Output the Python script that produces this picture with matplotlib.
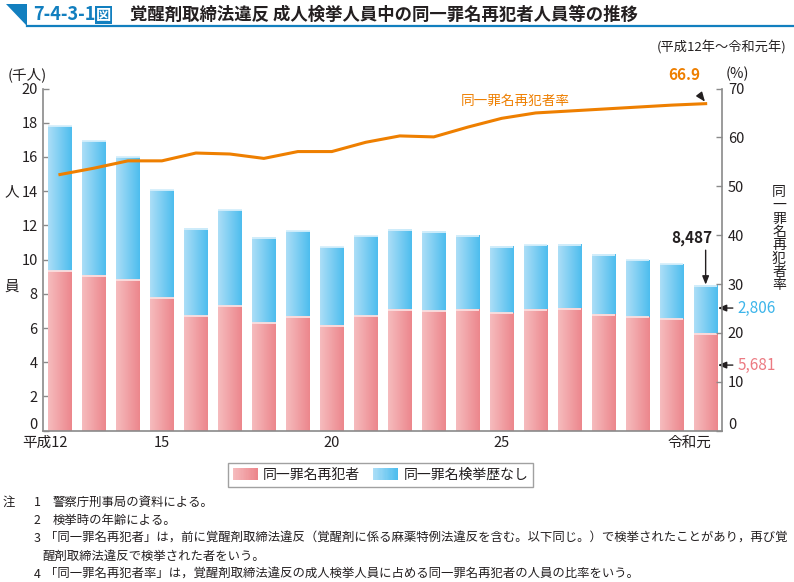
import numpy as np
import matplotlib
matplotlib.use("Agg")
import matplotlib.pyplot as plt
from matplotlib.patches import Rectangle, Polygon
from matplotlib.legend_handler import HandlerBase
from matplotlib.colors import LinearSegmentedColormap, to_rgb
from matplotlib.lines import Line2D
from matplotlib.ticker import FuncFormatter

plt.rcParams['font.family'] = ['Noto Sans CJK JP', 'DejaVu Sans']

# ---------------- data ----------------
years = ['平成12', '13', '14', '15', '16', '17', '18', '19', '20', '21',
         '22', '23', '24', '25', '26', '27', '28', '29', '30', '令和元']
repeat = [9.34, 9.09, 8.83, 7.78, 6.73, 7.29, 6.32, 6.69, 6.16, 6.71,
          7.10, 7.02, 7.10, 6.88, 7.10, 7.16, 6.81, 6.65, 6.53, 5.681]
no_history = [8.48, 7.87, 7.19, 6.31, 5.10, 5.62, 4.99, 5.01, 4.60, 4.68,
              4.66, 4.64, 4.33, 3.90, 3.76, 3.74, 3.50, 3.35, 3.22, 2.806]
rate = [52.4, 53.7, 55.2, 55.2, 56.8, 56.6, 55.7, 57.1, 57.1, 59.0,
        60.3, 60.1, 62.1, 63.9, 65.0, 65.4, 65.8, 66.2, 66.6, 66.9]
tick_idx = [0, 3, 8, 13, 19]
tick_lab = ['平成12', '15', '20', '25', '令和元']
left_ticks = list(range(0, 21, 2))
right_ticks = list(range(0, 71, 10))

# ---------------- style ----------------
W, H = 794, 582
PINK_L, PINK_R, PINK_TOP = '#f6bcbe', '#ec868c', '#fbdfe0'
BLUE_L, BLUE_R, BLUE_TOP = '#acdef7', '#4dbdee', '#d6effb'
ORANGE = '#ee7f00'
TITLE_BLUE = '#127fbf'
GRAY = '#8a8a8a'
TXT = '#231f20'

def fx(x):
    return x / W

def fy(y):
    return 1 - y / H

fig = plt.figure(figsize=(W / 100, H / 100), dpi=100)
ax_l, ax_r, ax_t, ax_b = 43.3, 722.3, 88.5, 430.7
ax = fig.add_axes([fx(ax_l), fy(ax_b), (ax_r - ax_l) / W, (ax_b - ax_t) / H])
ax2 = ax.twinx()

x = np.arange(len(years))
bw = 0.69
cmap_p = LinearSegmentedColormap.from_list('p', [PINK_L, PINK_R])
cmap_b = LinearSegmentedColormap.from_list('b', [BLUE_L, BLUE_R])
grad = np.linspace(0, 1, 128).reshape(1, -1)

bars_p = ax.bar(x, repeat, width=bw, color=PINK_R, zorder=1)
bars_b = ax.bar(x, no_history, bottom=repeat, width=bw, color=BLUE_R, zorder=1)
for bars, cm, topc in ((bars_p, cmap_p, PINK_TOP), (bars_b, cmap_b, BLUE_TOP)):
    for b in bars:
        x0, y0 = b.get_x(), b.get_y()
        w, h = b.get_width(), b.get_height()
        im = ax.imshow(grad, extent=(x0, x0 + w, y0, y0 + h), cmap=cm,
                       aspect='auto', interpolation='bilinear', zorder=2)
        im.set_clip_path(b)
        ax.plot([x0, x0 + w], [y0 + h - 0.03, y0 + h - 0.03], color=topc,
                lw=1.3, zorder=3, solid_capstyle='butt')

hide_zero = FuncFormatter(lambda v, p: '' if v == 0 else f'{v:g}')

ax.set_xlim(-0.49, len(years) - 0.51)
ax.set_ylim(0, 20)
ax.set_yticks(left_ticks)
ax.yaxis.set_major_formatter(hide_zero)
ax.set_xticks([])
ax.tick_params(axis='y', direction='in', length=4, width=1, color=GRAY,
               labelsize=10.5, labelcolor=TXT, pad=4)
for s in ['top', 'right']:
    ax.spines[s].set_visible(False)
for s in ['left', 'bottom']:
    ax.spines[s].set_color(GRAY)
    ax.spines[s].set_linewidth(1.2)

ax2.plot(x, rate, color=ORANGE, lw=2.2, zorder=5, solid_joinstyle='round')
ax2.set_ylim(0, 70)
ax2.set_yticks(right_ticks)
ax2.yaxis.set_major_formatter(hide_zero)
ax2.tick_params(axis='y', direction='in', length=4, width=1, color=GRAY,
                labelsize=10.5, labelcolor=TXT, pad=4)
for s in ['top', 'left', 'bottom']:
    ax2.spines[s].set_visible(False)
ax2.spines['right'].set_color(GRAY)
ax2.spines['right'].set_linewidth(1.2)

# raised "0" labels (as in the reference)
fig.text(fx(ax_l - 5.5), fy(425), '0', ha='right', va='center', fontsize=10.5, color=TXT)
fig.text(fx(ax_r + 5.5), fy(425), '0', ha='left', va='center', fontsize=10.5, color=TXT)

# x tick labels
xt = ax.get_xaxis_transform()
yl = -(443 - ax_b) / (ax_b - ax_t)
for i, lab in zip(tick_idx, tick_lab):
    if lab == '平成12':
        ax.text(i + 0.24, yl, lab, transform=xt, ha='right', va='center',
                fontsize=10.5, color=TXT)
    elif lab == '令和元':
        ax.text(i + 0.18, yl, lab, transform=xt, ha='right', va='center',
                fontsize=10.5, color=TXT)
    else:
        ax.text(i, yl, lab, transform=xt, ha='center', va='center',
                fontsize=10.5, color=TXT)

# annotations
last = len(years) - 1
total_last = repeat[last] + no_history[last]
ax2.annotate(f'{rate[last]:.1f}', xy=(last - 0.02, rate[last] + 0.4),
             xytext=(last - 0.62, 72.8), ha='center', va='center',
             fontsize=11, fontweight='bold', color=ORANGE,
             arrowprops=dict(arrowstyle='-|>,head_length=0.5,head_width=0.2',
                             color=TXT, lw=1, shrinkA=8, shrinkB=0),
             annotation_clip=False)
ax2.text(13.4, 67.5, '同一罪名再犯者率', ha='center', va='center',
         fontsize=9.8, color=ORANGE)
ax.text(last - 0.42, 11.27, f'{int(round(total_last * 1000)):,}', ha='center',
        va='center', fontsize=11, fontweight='bold', color=TXT)
ax.annotate('', xy=(last, total_last + 0.05), xytext=(last, 10.55),
            arrowprops=dict(arrowstyle='-|>,head_length=0.5,head_width=0.2',
                            color=TXT, lw=1, shrinkA=0, shrinkB=0),
            annotation_clip=False)

for val, ypos, col in ((no_history[last], repeat[last] + no_history[last] * 0.53, '#3db5ea'),
                       (repeat[last], repeat[last] * 0.675, '#ec7a82')):
    ax.annotate('', xy=(last + 0.36, ypos), xytext=(last + 0.8, ypos),
                arrowprops=dict(arrowstyle='-|>,head_length=0.5,head_width=0.2',
                                color=TXT, lw=1, shrinkA=0, shrinkB=0),
                annotation_clip=False)
    ax.text(last + 0.94, ypos, f'{int(round(val * 1000)):,}', ha='left',
            va='center', fontsize=11, color=col, clip_on=False)

# axis unit labels
fig.text(fx(27), fy(75), '(千人)', ha='center', va='center', fontsize=10.5, color=TXT)
fig.text(fx(737), fy(74), '(%)', ha='center', va='center', fontsize=10.5, color=TXT)
fig.text(fx(787), fy(48), '(平成12年～令和元年)', ha='right', va='center',
         fontsize=9.5, color=TXT)
fig.text(fx(12), fy(192), '人', ha='center', va='center', fontsize=10.5, color=TXT)
fig.text(fx(12), fy(287), '員', ha='center', va='center', fontsize=10.5, color=TXT)
for k, ch in enumerate('同一罪名再犯者率'):
    fig.text(fx(779), fy(192 + k * 13.3), ch, ha='center', va='center',
             fontsize=10, color=TXT)

# title
fig.patches.append(Polygon([(fx(6), fy(4)), (fx(27), fy(4)), (fx(27), fy(26))],
                           closed=True, transform=fig.transFigure,
                           facecolor=TITLE_BLUE, edgecolor='none'))
fig.add_artist(Line2D([fx(27), fx(794)], [fy(25.5), fy(25.5)],
                      color=TITLE_BLUE, lw=1.6))
fig.text(fx(33), fy(15), '7-4-3-1', ha='left', va='center', fontsize=13,
         fontweight='bold', color=TITLE_BLUE)
fig.text(fx(103.5), fy(15), '図', ha='center', va='center', fontsize=11,
         fontweight='bold', color='white',
         bbox=dict(boxstyle='square,pad=0.08', facecolor=TITLE_BLUE, edgecolor='none'))
fig.text(fx(130), fy(15), '覚醒剤取締法違反 成人検挙人員中の同一罪名再犯者人員等の推移',
         ha='left', va='center', fontsize=12.5, fontweight='bold', color=TXT)

# legend with gradient handles
class GradHandler(HandlerBase):
    def __init__(self, c1, c2, n=20):
        super().__init__()
        self.c1, self.c2, self.n = np.array(to_rgb(c1)), np.array(to_rgb(c2)), n

    def create_artists(self, legend, orig_handle, xdescent, ydescent,
                       width, height, fontsize, trans):
        arts = []
        for k in range(self.n):
            t = k / (self.n - 1)
            c = self.c1 * (1 - t) + self.c2 * t
            r = Rectangle((-xdescent + width * k / self.n, -ydescent),
                          width / self.n * 1.05, height, facecolor=c,
                          edgecolor='none', transform=trans)
            arts.append(r)
        return arts

h1 = Rectangle((0, 0), 1, 1)
h2 = Rectangle((0, 0), 1, 1, label='b')
leg = fig.legend([h1, h2], ['同一罪名再犯者', '同一罪名検挙歴なし'],
                 handler_map={h1: GradHandler(PINK_L, PINK_R),
                              h2: GradHandler(BLUE_L, BLUE_R)},
                 loc='center', bbox_to_anchor=(fx(380.5), fy(475)), ncol=2,
                 fontsize=10, frameon=True, fancybox=False, edgecolor=GRAY,
                 handlelength=1.8, handleheight=0.95, handletextpad=0.4,
                 columnspacing=0.9, borderpad=0.35, borderaxespad=0)
leg.get_frame().set_linewidth(1.0)
for t in leg.get_texts():
    t.set_color(TXT)

# notes
nfs = 8.9
notes = [
    (502, '1', '警察庁刑事局の資料による。'),
    (520, '2', '検挙時の年齢による。'),
    (538, '3', '「同一罪名再犯者」は，前に覚醒剤取締法違反（覚醒剤に係る麻薬特例法違反を含む。以下同じ。）で検挙されたことがあり，再び覚'),
    (556, None, '醒剤取締法違反で検挙された者をいう。'),
    (574, '4', '「同一罪名再犯者率」は，覚醒剤取締法違反の成人検挙人員に占める同一罪名再犯者の人員の比率をいう。'),
]
fig.text(fx(9), fy(502), '注', ha='center', va='center', fontsize=nfs, color=TXT)
for yy, num, txt in notes:
    if num is not None:
        fig.text(fx(37), fy(yy), num, ha='center', va='center', fontsize=nfs, color=TXT)
        xs = 45 if txt.startswith('「') else 53
    else:
        xs = 42
    fig.text(fx(xs), fy(yy), txt, ha='left', va='center', fontsize=nfs, color=TXT)

fig.savefig('out.png', dpi=100)
